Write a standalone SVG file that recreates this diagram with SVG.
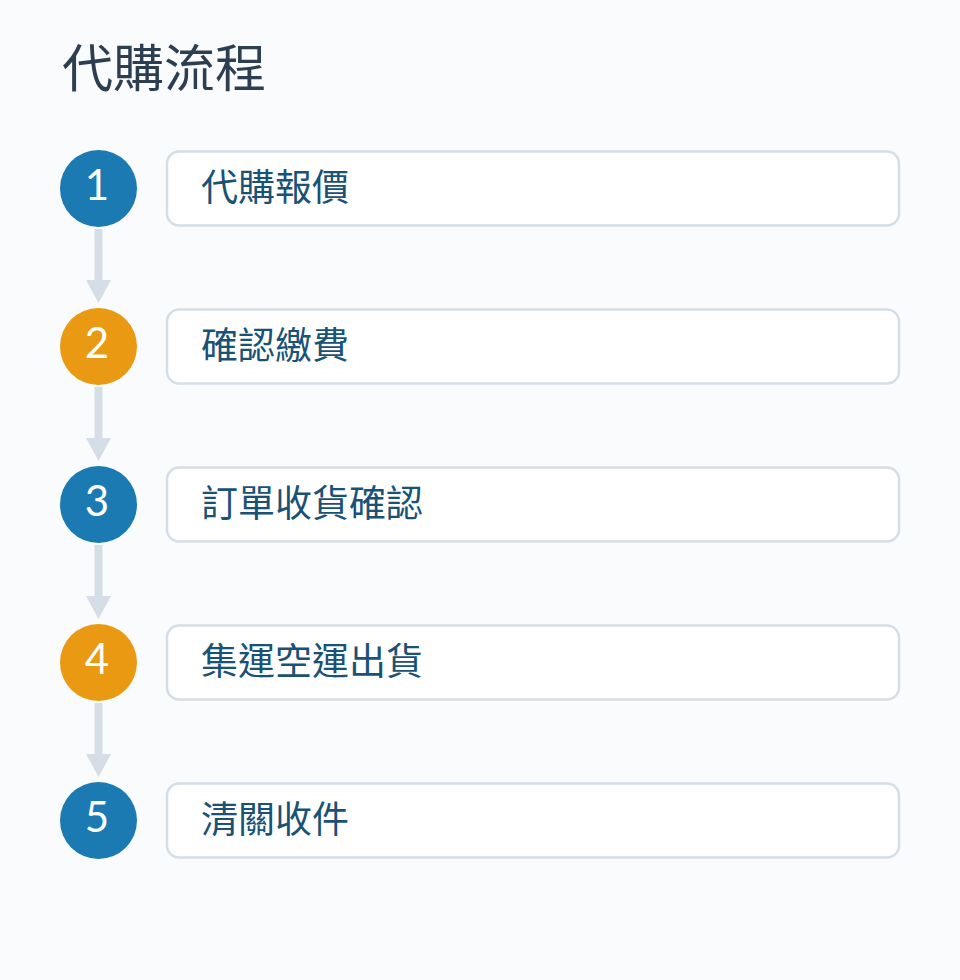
<svg xmlns="http://www.w3.org/2000/svg" width="960" height="980" viewBox="0 0 960 980">
<defs>
<style>
.title{font-family:"Noto Sans CJK TC","Noto Sans CJK SC",sans-serif;font-size:51px;fill:#2c3e50;font-weight:400}
.box{fill:#ffffff;stroke:#d5dee6;stroke-width:2.5}
.num{font-family:"Lato","Open Sans","Liberation Sans",sans-serif;font-size:42px;fill:#ffffff;text-anchor:middle;font-weight:400}
.lbl{font-family:"Noto Sans CJK TC","Noto Sans CJK SC",sans-serif;font-size:37px;fill:#1a5276;font-weight:400}
.blue{fill:#1c7ab3}
.orange{fill:#e99a12}
.shaft{stroke:#d5dee6;stroke-width:8}
.head{fill:#d5dee6}
</style>
</defs>
<rect width="960" height="980" fill="#f9fbfc"/>
<text class="title" x="62" y="87">代購流程</text>
<g id="connectors">
<line class="shaft" x1="98.5" y1="229" x2="98.5" y2="282"/>
<polygon class="head" points="86,280 111,280 98.5,303"/>
<line class="shaft" x1="98.5" y1="387" x2="98.5" y2="440"/>
<polygon class="head" points="86,438 111,438 98.5,461"/>
<line class="shaft" x1="98.5" y1="545" x2="98.5" y2="598"/>
<polygon class="head" points="86,596 111,596 98.5,619"/>
<line class="shaft" x1="98.5" y1="703" x2="98.5" y2="756"/>
<polygon class="head" points="86,754 111,754 98.5,777"/>
</g>
<g id="step1">
<circle class="blue" cx="98.5" cy="188.5" r="38.5"/>
<text class="num" x="97" y="200">1</text>
<rect class="box" x="167" y="151.5" width="732" height="74" rx="12"/>
<text class="lbl" x="201" y="201">代購報價</text>
</g>
<g id="step2">
<circle class="orange" cx="98.5" cy="346.5" r="38.5"/>
<text class="num" x="97" y="358">2</text>
<rect class="box" x="167" y="309.5" width="732" height="74" rx="12"/>
<text class="lbl" x="201" y="359">確認繳費</text>
</g>
<g id="step3">
<circle class="blue" cx="98.5" cy="504.5" r="38.5"/>
<text class="num" x="97" y="516">3</text>
<rect class="box" x="167" y="467.5" width="732" height="74" rx="12"/>
<text class="lbl" x="201" y="517">訂單收貨確認</text>
</g>
<g id="step4">
<circle class="orange" cx="98.5" cy="662.5" r="38.5"/>
<text class="num" x="97" y="674">4</text>
<rect class="box" x="167" y="625.5" width="732" height="74" rx="12"/>
<text class="lbl" x="201" y="675">集運空運出貨</text>
</g>
<g id="step5">
<circle class="blue" cx="98.5" cy="820.5" r="38.5"/>
<text class="num" x="97" y="832">5</text>
<rect class="box" x="167" y="783.5" width="732" height="74" rx="12"/>
<text class="lbl" x="201" y="833">清關收件</text>
</g>
</svg>
